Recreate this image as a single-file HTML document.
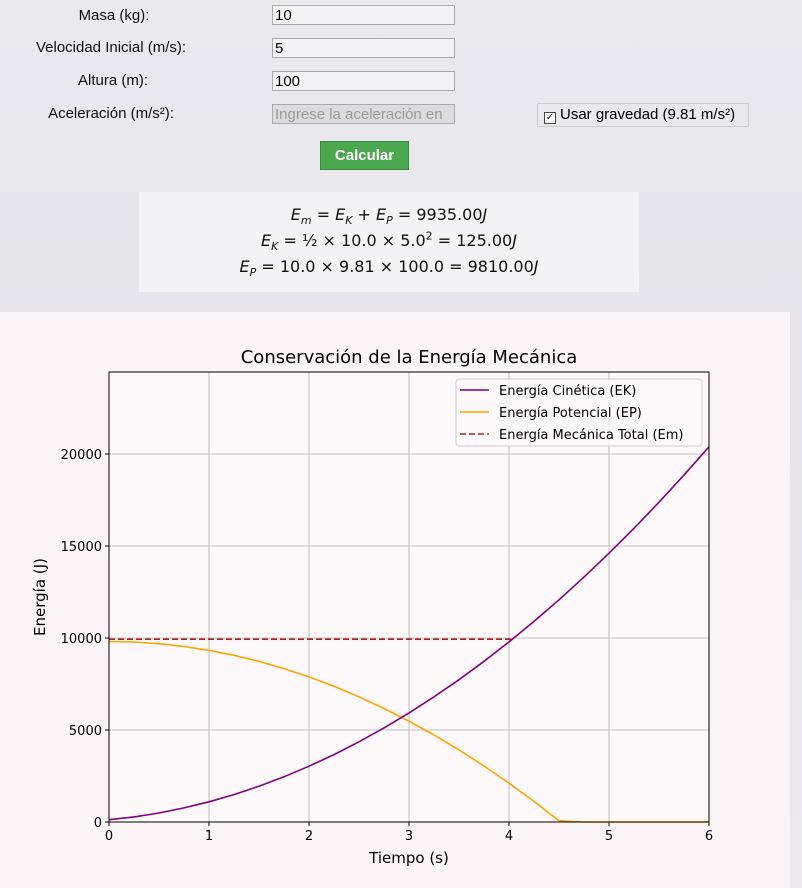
<!DOCTYPE html>
<html><head><meta charset="utf-8">
<style>
body{margin:0;width:802px;height:888px;overflow:hidden;background:linear-gradient(180deg,#e9e9ee 0%,#e6e6ec 40%,#ebe9ee 100%);font-family:"Liberation Sans",sans-serif;position:relative}
.lbl{position:absolute;font-size:15px;color:#111;text-align:center;width:240px}
.inp{position:absolute;left:272px;width:183px;height:20px;border:1px solid #aaa;background:#f4f4f6;font-size:15px;line-height:20px;padding-left:2px;box-sizing:border-box;color:#000}
.formula{position:absolute;left:139px;top:192px;width:500px;height:100px;background:#f3f2f5;font-family:"DejaVu Sans","Liberation Sans",sans-serif;font-size:16px;text-align:center;color:#111;line-height:26px;padding-top:10px;box-sizing:border-box}
.formula div{height:26px}
.formula sub,.formula sup{font-size:11px;line-height:0}
.panel{position:absolute;left:0;top:312px;width:790px;height:576px;background:#fbf4f6}
</style></head><body>
<div class="lbl" style="left:-6px;top:7px">Masa (kg):</div>
<div class="inp" style="top:5px">10</div>
<div class="lbl" style="left:-9px;top:39px">Velocidad Inicial (m/s):</div>
<div class="inp" style="top:38px">5</div>
<div class="lbl" style="left:-7px;top:72px">Altura (m):</div>
<div class="inp" style="top:71px">100</div>
<div class="lbl" style="left:-9px;top:105px">Aceleración (m/s²):</div>
<div class="inp" style="top:104px;background:#dcdcdc;color:#999;white-space:nowrap;overflow:hidden">Ingrese la aceleración en</div>
<div style="position:absolute;left:537px;top:103px;width:210px;height:22px;border:1px solid #ccc;font-size:15px;line-height:22px;white-space:nowrap"><span style="display:inline-block;width:10px;height:10px;border:1px solid #444;background:#fff;font-size:10px;line-height:10px;text-align:center;margin:0 4px 0 6px;vertical-align:-1px">✓</span>Usar gravedad (9.81 m/s²)</div>
<div style="position:absolute;left:320px;top:141px;width:89px;height:29px;background:#4aa84e;border:1px solid #3a8a3e;color:#fff;font-weight:bold;font-size:15px;text-align:center;line-height:27px;box-sizing:border-box">Calcular</div>
<div class="formula">
<div><i>E<sub>m</sub></i> = <i>E<sub>K</sub></i> + <i>E<sub>P</sub></i> = 9935.00<i>J</i></div>
<div><i>E<sub>K</sub></i> = ½ × 10.0 × 5.0<sup>2</sup> = 125.00<i>J</i></div>
<div><i>E<sub>P</sub></i> = 10.0 × 9.81 × 100.0 = 9810.00<i>J</i></div>
</div>
<div class="panel"></div>
<svg id="chart" width="802" height="888" style="position:absolute;left:0;top:0" font-family="DejaVu Sans, Liberation Sans, sans-serif"></svg>
<script>
const times=[0,0.25,0.5,0.75,1,1.25,1.5,1.75,2,2.25,2.5,2.75,3,3.25,3.5,3.75,4,4.25,4.5,4.75,5,5.25,5.5,5.75,6];
const kinetic=[125,278,491,764,1097,1490,1943,2457,3031,3665,4359,5113,5927,6802,7736,8731,9786,10901,12076,13311,14607,15963,17379,18854,20390];
const potential=[9810,9780,9690,9539,9329,9058,8727,8336,7885,7374,6803,6171,5479,4728,3916,3043,2111,1119,66,0,0,0,0,0,0];
const mechTimes=[0,4.03];
const mechanical=[9935,9935];
const xTicks=[0,1,2,3,4,5,6];
const yTicks=[0,5000,10000,15000,20000];
const svg=document.getElementById('chart');
const NS='http://www.w3.org/2000/svg';
const X0=109,X1=709,Y0=822,Y1=372;
const xs=t=>X0+(t/6)*(X1-X0);
const ys=v=>Y0-v*(368/20000);
function mk(tag,attrs,parent){const e=document.createElementNS(NS,tag);for(const k in attrs)e.setAttribute(k,attrs[k]);(parent||svg).appendChild(e);return e;}
const bg=mk('rect',{x:X0,y:Y1,width:X1-X0,height:Y0-Y1,fill:'#fdf8f9'});


xTicks.forEach(t=>{const g=mk('line',{x1:xs(t),x2:xs(t),y1:Y1,y2:Y0,stroke:'#b0b0b0','stroke-width':0.8});


mk('line',{x1:xs(t),x2:xs(t),y1:Y0,y2:Y0+4,stroke:'#000'});
const l=mk('text',{x:xs(t),y:Y0+18,'text-anchor':'middle','font-size':13,fill:'#000'});l.textContent=t;

});
yTicks.forEach(v=>{const g=mk('line',{x1:X0,x2:X1,y1:ys(v),y2:ys(v),stroke:'#b0b0b0','stroke-width':0.8});


mk('line',{x1:X0-4,x2:X0,y1:ys(v),y2:ys(v),stroke:'#000'});
const l=mk('text',{x:X0-7,y:ys(v)+5,'text-anchor':'end','font-size':13,fill:'#000'});l.textContent=v;

});
function line(tx,vals,color,dash,name){const d=vals.map((v,i)=>(i?'L':'M')+xs(tx[i]).toFixed(1)+','+ys(v).toFixed(1)).join('');
const p=mk('path',{d:d,fill:'none',stroke:color,'stroke-width':1.6});if(dash)p.setAttribute('stroke-dasharray',dash);

}
line(mechTimes,mechanical,'#b22222','6,3','mechanical-energy-line');
line(times,potential,'#ffa500',null,'potential-energy-line');
line(times,kinetic,'#800080',null,'kinetic-energy-line');
const fr=mk('rect',{x:X0,y:Y1,width:X1-X0,height:Y0-Y1,fill:'none',stroke:'#000','stroke-width':1});


const title=mk('text',{x:409,y:363,'text-anchor':'middle','font-size':18,fill:'#000'});title.textContent='Conservación de la Energía Mecánica';


const xl=mk('text',{x:409,y:863,'text-anchor':'middle','font-size':15,fill:'#000'});xl.textContent='Tiempo (s)';


const yl=mk('text',{x:45,y:597,'text-anchor':'middle','font-size':15,fill:'#000',transform:'rotate(-90 45 597)'});yl.textContent='Energía (J)';


const lg=mk('rect',{x:456,y:379,width:246,height:67,rx:3,fill:'#fdf8f9','fill-opacity':0.85,stroke:'#ccc'});


const entries=[['Energía Cinética (EK)','#800080',null],['Energía Potencial (EP)','#ffa500',null],['Energía Mecánica Total (Em)','#b22222','6,3']];
entries.forEach((e,i)=>{const y=390+i*22;const l=mk('line',{x1:460,x2:489,y1:y,y2:y,stroke:e[1],'stroke-width':1.6});if(e[2])l.setAttribute('stroke-dasharray',e[2]);
const t=mk('text',{x:499,y:y+5,'font-size':13,fill:'#000'});t.textContent=e[0];

});
</script>
</body></html>
